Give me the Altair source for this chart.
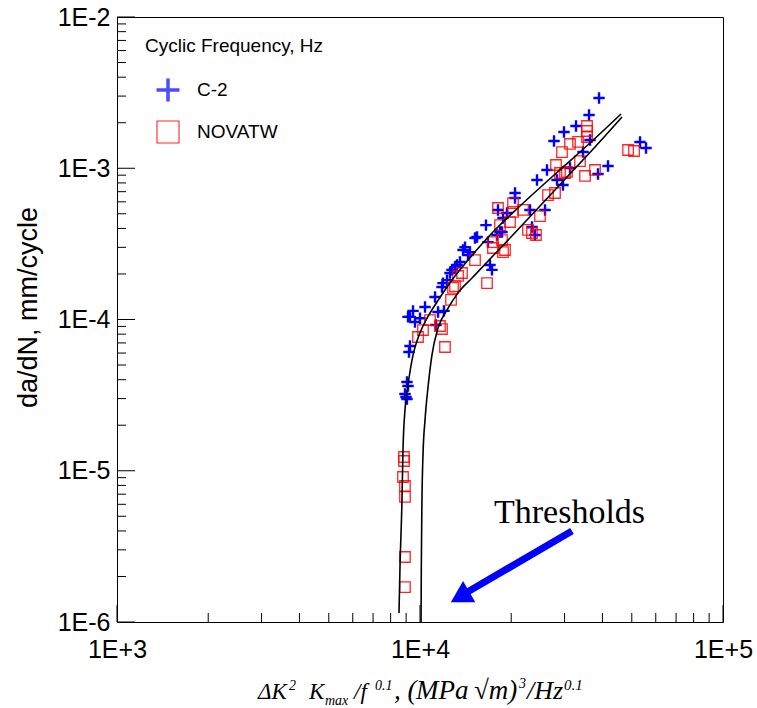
import altair as alt
import pandas as pd

# ---------------- data ----------------
c2_x = [9268, 9198, 9057, 9130, 8921, 8989, 9057, 9268, 9483, 9627, 10000, 9130, 10390, 11210,
        11470, 12000, 11290, 11910, 11820, 12280, 12560, 12750, 13050, 13250, 13550, 13870, 14080,
        14400, 14620, 15190, 15430, 16510, 16760, 17020, 17280, 17950, 18370, 18090, 19370, 18790,
        20590, 20590, 23070, 25860, 23420, 23960, 24330, 26250, 28330, 29640, 27690, 29870, 32730,
        36130, 38980, 36400, 34510, 53230, 55710, 41740, 38680, 31260, 18650]
c2_y = [6.68e-5, 6.10e-5, 3.86e-5, 3.63e-5, 3.22e-5, 3.07e-5, 2.98e-5, 1.04e-4, 1.14e-4, 9.63e-5,
        1.02e-4, 1.04e-4, 1.21e-4, 1.41e-4, 1.12e-4, 1.14e-4, 9.20e-5, 1.74e-4, 1.64e-4, 1.82e-4,
        2.03e-4, 2.13e-4, 2.22e-4, 2.29e-4, 2.40e-4, 2.88e-4, 3.01e-4, 2.67e-4, 2.79e-4, 3.46e-4,
        3.51e-4, 4.21e-4, 3.25e-4, 2.29e-4, 2.13e-4, 3.62e-4, 3.79e-4, 5.30e-4, 5.06e-4, 4.69e-4,
        6.86e-4, 6.36e-4, 5.30e-4, 5.30e-4, 4.09e-4, 3.62e-4, 8.36e-4, 9.74e-4, 8.36e-4, 7.75e-4,
        1.514e-3, 1.737e-3, 1.903e-3, 2.249e-3, 2.913e-3, 1.537e-3, 1.280e-3, 1.492e-3, 1.361e-3,
        1.035e-3, 9.16e-4, 1.004e-3, 3.79e-4]

nov_x = [8854, 8854, 8787, 8921, 8921, 8921, 8921, 9849, 10230, 10790, 11640, 11820, 12090, 12660,
         13050, 13350, 13760, 12850, 15190, 16640, 17410, 18650, 19080, 18090, 20280, 21880, 20280,
         19820, 18370, 24890, 22720, 23420, 24140, 18790, 26450, 27900, 28970, 30560, 35580, 35580,
         35580, 33230, 31260, 29420, 33740, 28110, 30100, 35050, 37810, 48600, 50860, 17410]
nov_y = [1.233e-5, 1.160e-5, 9.09e-6, 7.93e-6, 6.71e-6, 2.69e-6, 1.70e-6, 7.66e-5, 8.52e-5, 9.92e-5,
         9.06e-5, 8.65e-5, 6.58e-5, 1.35e-4, 1.66e-4, 1.94e-4, 2.03e-4, 1.62e-4, 2.47e-4, 1.74e-4,
         2.97e-4, 3.35e-4, 2.88e-4, 5.46e-4, 5.89e-4, 5.30e-4, 5.14e-4, 4.41e-4, 4.21e-4, 4.83e-4,
         3.91e-4, 3.73e-4, 3.62e-4, 2.79e-4, 6.65e-4, 6.86e-4, 9.30e-4, 9.45e-4, 1.903e-3, 1.763e-3,
         1.609e-3, 1.492e-3, 1.447e-3, 1.280e-3, 1.116e-3, 1.051e-3, 9.30e-4, 8.89e-4, 9.74e-4,
         1.320e-3, 1.300e-3, 3.25e-4]

# threshold curves (read as polylines from the picture)
curve1_x = [8524, 8590, 8721, 8787, 8921, 9130, 9483, 9849, 10230, 10790, 11380, 12090, 13050,
            14400, 17410, 21380, 27480, 36400, 46070]
curve1_y = [1.147e-6, 2.31e-6, 6.41e-6, 1.37e-5, 2.52e-5, 3.69e-5, 5.82e-5, 7.55e-5, 9.06e-5,
            1.104e-4, 1.305e-4, 1.567e-4, 1.94e-4, 2.47e-4, 3.79e-4, 5.63e-4, 8.89e-4, 1.469e-3,
            2.285e-3]
curve2_x = [10080, 10100, 10150, 10230, 10390, 10630, 10950, 11470, 12280, 13350, 14850, 17020,
            19820, 24890, 30560, 37810, 46420]
curve2_y = [1.0e-6, 2.31e-6, 6.41e-6, 1.27e-5, 2.17e-5, 3.58e-5, 5.82e-5, 8.78e-5, 1.156e-4,
            1.50e-4, 1.88e-4, 2.51e-4, 3.46e-4, 5.63e-4, 8.75e-4, 1.381e-3, 2.18e-3]

x_major = [1e3, 1e4, 1e5]
x_minor = [2e3, 3e3, 4e3, 5e3, 6e3, 7e3, 8e3, 9e3, 2e4, 3e4, 4e4, 5e4, 6e4, 7e4, 8e4, 9e4]
y_major = [1e-6, 1e-5, 1e-4, 1e-3, 1e-2]
y_minor = [m * d for d in [1e-6, 1e-5, 1e-4, 1e-3] for m in [2, 3, 4, 5, 6, 7, 8, 9]]

legend_title = "Cyclic Frequency, Hz"
series = ["C-2", "NOVATW"]
y_title = "da/dN, mm/cycle"
annotation = "Thresholds"
x_title_parts = ["\u0394K", "2", "K", "max", "/f", "0.1", ", (", "MPa", "\u221am)", "3", "/Hz", "0.1"]

# ---------------- layout ----------------
W, H = 606, 605
CROSS = "M-1,0L1,0M0,-1L0,1"

xs = alt.Scale(type="log", domain=[1000, 100000], nice=False)
ys = alt.Scale(type="log", domain=[1e-6, 1e-2], nice=False)

xaxis = alt.Axis(values=x_major, labelExpr="'1E+' + round(log(datum.value)/LN10)",
                 ticks=False, tickSize=0, domain=False, grid=False, title=None,
                 labelFont="Liberation Sans", labelFontSize=25, labelPadding=15,
                 labelColor="black", labelFlush=False)
yaxis = alt.Axis(values=y_major, labelExpr="'1E' + round(log(datum.value)/LN10)",
                 ticks=False, tickSize=0, domain=False, grid=False, title=y_title,
                 labelFont="Liberation Sans", labelFontSize=25, labelPadding=7,
                 labelColor="black", labelFlush=False,
                 titleFont="Liberation Sans", titleFontSize=27, titleFontWeight="normal",
                 titleColor="black", titleAngle=270, titleX=-81, titleY=290,
                 titleAlign="center", titleBaseline="alphabetic")

X = lambda f: alt.X(f, type="quantitative", scale=xs, axis=xaxis)
Y = lambda f: alt.Y(f, type="quantitative", scale=ys, axis=yaxis)

df_c2 = pd.DataFrame({"x": c2_x, "y": c2_y})
df_nov = pd.DataFrame({"x": nov_x, "y": nov_y})
df_curves = pd.concat([
    pd.DataFrame({"x": curve1_x, "y": curve1_y, "c": "a"}),
    pd.DataFrame({"x": curve2_x, "y": curve2_y, "c": "b"}),
])

crosses = alt.Chart(df_c2).mark_point(shape=CROSS, filled=False, stroke="#0000ff",
                                      strokeWidth=2.4, size=130, opacity=1).encode(x=X("x"), y=Y("y"))
squares = alt.Chart(df_nov).mark_point(shape="square", filled=False, stroke="#ff0000",
                                       strokeWidth=1.3, size=110, opacity=0.85).encode(x=X("x"), y=Y("y"))
curves = alt.Chart(df_curves).mark_line(color="black", strokeWidth=1.6, interpolate="monotone").encode(
    x=X("x"), y=Y("y"), detail="c:N")

xmaj_t = alt.Chart(pd.DataFrame({"v": x_major})).mark_rule(color="black", strokeWidth=1).encode(
    x=X("v"), y=alt.value(H), y2=alt.value(H - 17))
xmin_t = alt.Chart(pd.DataFrame({"v": x_minor})).mark_rule(color="black", strokeWidth=1).encode(
    x=X("v"), y=alt.value(H), y2=alt.value(H - 9))
ymaj_t = alt.Chart(pd.DataFrame({"v": y_major})).mark_rule(color="black", strokeWidth=1).encode(
    y=Y("v"), x=alt.value(0), x2=alt.value(18))
ymin_t = alt.Chart(pd.DataFrame({"v": y_minor})).mark_rule(color="black", strokeWidth=1).encode(
    y=Y("v"), x=alt.value(0), x2=alt.value(9))

layers = [xmaj_t, xmin_t, ymaj_t, ymin_t, crosses, squares, curves]

# legend (manual)
def txt(s, x, y, size, font="Liberation Sans", style="normal", align="left", color="black"):
    return alt.Chart(pd.DataFrame({"t": [s]})).mark_text(
        font=font, fontSize=size, fontStyle=style, align=align, baseline="alphabetic",
        color=color).encode(text="t:N", x=alt.value(x), y=alt.value(y))

layers.append(txt(legend_title, 28, 35, 19))
layers.append(alt.Chart(pd.DataFrame({"s": [series[0]]})).mark_point(
    shape=CROSS, filled=False, stroke="#0000ff", strokeWidth=3.5, size=529).encode(
    x=alt.value(51), y=alt.value(73)))
layers.append(txt(series[0], 80, 79, 19))
layers.append(alt.Chart(pd.DataFrame({"s": [series[1]]})).mark_point(
    shape="square", filled=False, stroke="#ff0000", strokeWidth=1.1, size=484, opacity=0.85).encode(
    x=alt.value(51), y=alt.value(115)))
layers.append(txt(series[1], 80, 121, 19))

# annotation + arrow
layers.append(txt(annotation, 377, 506, 34, font="Liberation Serif"))
layers.append(alt.Chart(pd.DataFrame({"t": [annotation]})).mark_rule(
    color="#0000ff", strokeWidth=7).encode(
    x=alt.value(455), y=alt.value(514), x2=alt.value(347), y2=alt.value(577)))
layers.append(alt.Chart(pd.DataFrame({"t": [annotation]})).mark_point(
    shape="triangle-up", filled=True, color="#0000ff", size=600, angle=240, opacity=1).encode(
    x=alt.value(343), y=alt.value(580)))

# x-axis title built from pieces
pieces_pos = [(141, 682, 23), (172, 673, 14), (192, 682, 23), (208, 688, 14), (237, 682, 23),
              (258, 673, 14), (277, 682, 27), (299, 682, 27), (357, 682, 27), (402, 671, 14),
              (410, 682, 26), (447, 673, 15)]
for s, (px, py, fs) in zip(x_title_parts, pieces_pos):
    layers.append(txt(s, px, py, fs, font="Liberation Serif", style="italic"))

chart = alt.layer(*layers).properties(
    width=W, height=H,
    autosize=alt.AutoSizeParams(type="none"),
    padding={"left": 117, "top": 17, "right": 34, "bottom": 86},
    background="white",
).configure_view(stroke="black", strokeWidth=1)

chart.save("out.html", embed_options={"renderer": "svg", "actions": False})
